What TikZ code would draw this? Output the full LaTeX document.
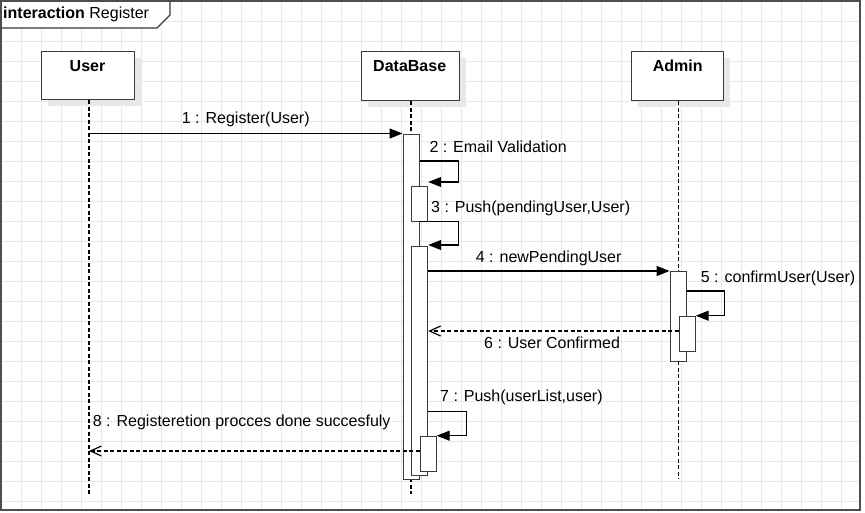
\documentclass[tikz,border=0pt]{standalone}
\usepackage{fontspec}
\setmainfont{Liberation Sans}
\usetikzlibrary{arrows.meta,shadows}
\definecolor{gridc}{HTML}{E8E8E8}
\definecolor{framec}{HTML}{4D4D4D}
\definecolor{linec}{HTML}{1A1A1A}
\definecolor{boxc}{HTML}{3A3A3A}
\tikzset{
  hdr/.style={draw=boxc, fill=white, line width=1.2pt, inner sep=0pt, anchor=north west,
    drop shadow={shadow xshift=6pt, shadow yshift=-6pt, fill=black!9, opacity=1}},
  hdrtxt/.style={anchor=base, inner sep=0pt, font=\fontsize{16}{19}\selectfont\bfseries},
  actbar/.style={draw=boxc, fill=white, line width=1.2pt, inner sep=0pt, anchor=north west},
  lifeline/.style={draw=black, line width=1.5pt, dash pattern=on 4pt off 2.5pt},
  msg/.style={draw=black, line width=1.2pt, -{Triangle[length=13pt,width=10pt]}},
  retmsg/.style={draw=black, line width=1.2pt, dash pattern=on 4pt off 2.5pt, -{Straight Barb[length=11pt,width=10pt]}},
  msglbl/.style={anchor=base west, inner sep=0pt, font=\fontsize{16}{19}\selectfont}
}
\begin{document}
\begin{tikzpicture}[x=1pt,y=-1pt]
\useasboundingbox (0,0) rectangle (865,512);
\fill[white] (0,0) rectangle (865,512);
% grid
\foreach \i in {0,...,42} \draw[gridc, line width=0.9pt] (1.7+20*\i,1) -- (1.7+20*\i,510);
\foreach \j in {0,...,25} \draw[gridc, line width=0.9pt] (1,1.7+20*\j) -- (860,1.7+20*\j);
% title tab
\fill[white] (1,1) -- (170,1) -- (170,15) -- (157,28) -- (1,28) -- cycle;
\draw[boxc, line width=1.1pt] (170,1) -- (170,15) -- (157,28) -- (1,28);
\node[anchor=base west, inner sep=0pt, font=\fontsize{16}{19}\selectfont] (title) at (3,18.5) {\textbf{interaction} Register};
% header boxes
\node[hdr, minimum width=93pt, minimum height=48pt] (user) at (41,51) {};
\node[hdr, minimum width=98pt, minimum height=49pt] (db) at (361,51) {};
\node[hdr, minimum width=92pt, minimum height=49pt] (admin) at (631,51) {};
\node[hdrtxt] (userT) at (87.5,71.7) {User};
\node[hdrtxt] (dbT) at (409.7,71.7) {DataBase};
\node[hdrtxt] (adminT) at (677.7,71.7) {Admin};
% lifelines
\coordinate (userEnd) at (89,495);
\coordinate (dbEnd) at (411,494);
\coordinate (adminEnd) at (678.5,479);
\draw[lifeline] (user.south -| userEnd) -- (userEnd);
\draw[lifeline] (db.south -| dbEnd) -- (dbEnd);
\draw[lifeline] (admin.south -| adminEnd) -- (adminEnd);
% activation bars
\node[actbar, minimum width=16.5pt, minimum height=344.5pt] (dbA) at (402.5,134) {};
\node[actbar, minimum width=16pt, minimum height=35pt] (dbB) at (411,186) {};
\node[actbar, minimum width=16pt, minimum height=228.5pt] (dbC) at (411,246) {};
\node[actbar, minimum width=16pt, minimum height=35pt] (dbD) at (419.5,436) {};
\node[actbar, minimum width=16pt, minimum height=90pt] (adA) at (669.5,271) {};
\node[actbar, minimum width=16pt, minimum height=35pt] (adB) at (678.5,316) {};
% message levels
\coordinate (c1) at (0,133.5);
\coordinate (c2a) at (0,161);
\coordinate (c2b) at (0,182);
\coordinate (c3a) at (0,221.7);
\coordinate (c3b) at (0,245);
\coordinate (c4) at (0,271);
\coordinate (c5a) at (0,291);
\coordinate (c5b) at (0,315.7);
\coordinate (c6) at (0,331);
\coordinate (c7a) at (0,411.3);
\coordinate (c7b) at (0,435.7);
\coordinate (c8) at (0,451);
% messages
\draw[msg] (userEnd |- c1) -- (dbA.west |- c1);
\draw[msg] (dbA.east |- c2a) -- ++(38,0) |- (dbB.east |- c2b);
\draw[msg] (dbA.east |- c3a) -- ++(38,0) |- (dbC.east |- c3b);
\draw[msg] (dbC.east |- c4) -- (adA.west |- c4);
\draw[msg] (adA.east |- c5a) -- ++(38,0) |- (adB.east |- c5b);
\draw[retmsg] (adB.west |- c6) -- (dbC.east |- c6);
\draw[msg] (dbC.east |- c7a) -- ++(38,0) |- (dbD.east |- c7b);
\draw[retmsg] (dbD.west |- c8) -- (userEnd |- c8);
% labels
\node[msglbl] (l1) at (181.7,123.3) {1 : Register(User)};
\node[msglbl] (l2) at (429.3,152.3) {2 : Email Validation};
\node[msglbl] (l3) at (431,212.3) {3 : Push(pendingUser,User)};
\node[msglbl] (l4) at (475.7,262.7) {4 : newPendingUser};
\node[msglbl] (l5) at (700.7,282.7) {5 : confirmUser(User)};
\node[msglbl] (l6) at (484,348.3) {6 : User Confirmed};
\node[msglbl] (l7) at (440,401.7) {7 : Push(userList,user)};
\node[msglbl] (l8) at (92.7,426.7) {8 : Registeretion procces done succesfuly};
% frame
\draw[framec, line width=2pt] (1,1) rectangle (860,510);
\end{tikzpicture}
\end{document}
